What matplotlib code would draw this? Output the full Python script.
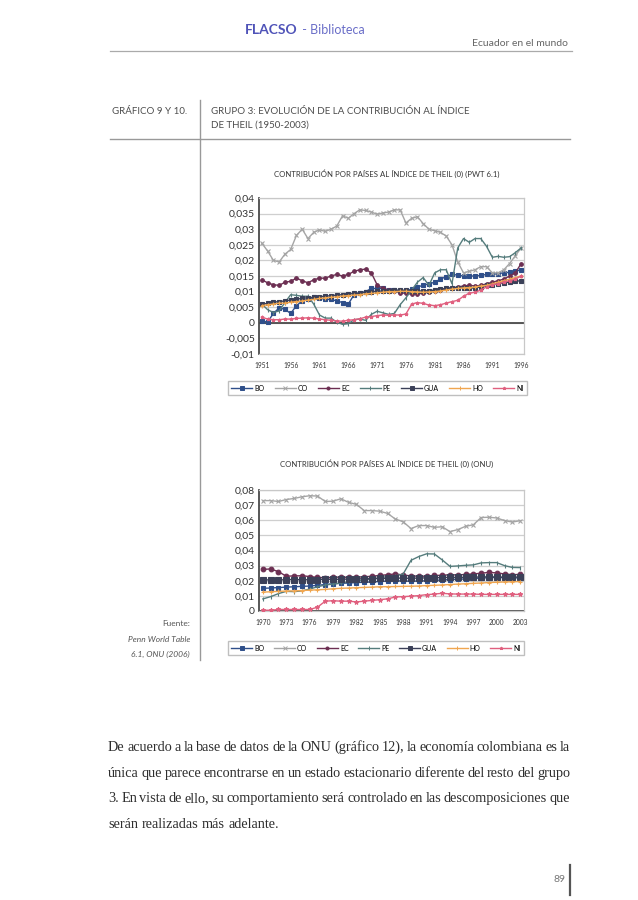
import numpy as np
import matplotlib.pyplot as plt
from matplotlib.lines import Line2D

# Datos

paises = ['BO', 'CO', 'EC', 'PE', 'GUA', 'HO', 'NI']

anios_pwt = list(range(1951, 1997))
pwt_BO = [0.0005, 0.0003, 0.003, 0.0048, 0.0043, 0.003, 0.0055, 0.007, 0.0075, 0.0082,
          0.008, 0.0075, 0.0075, 0.007, 0.0065, 0.006, 0.009, 0.0095, 0.010, 0.011,
          0.011, 0.011, 0.0105, 0.0105, 0.0102, 0.0102, 0.0108, 0.0115, 0.012, 0.0125,
          0.013, 0.014, 0.0148, 0.0155, 0.0153, 0.015, 0.015, 0.015, 0.0152, 0.0155,
          0.0155, 0.0158, 0.016, 0.0162, 0.0165, 0.017]
pwt_CO = [0.0255, 0.023, 0.020, 0.0195, 0.022, 0.0235, 0.028, 0.030, 0.027, 0.029,
          0.0298, 0.0293, 0.030, 0.031, 0.0343, 0.0335, 0.035, 0.0362, 0.036, 0.0355,
          0.0348, 0.0352, 0.0355, 0.0362, 0.0362, 0.032, 0.0335, 0.034, 0.0318, 0.030,
          0.0295, 0.029, 0.0278, 0.025, 0.0195, 0.016, 0.0165, 0.017, 0.018, 0.018,
          0.016, 0.016, 0.017, 0.019, 0.0215, 0.024]
pwt_EC = [0.0138, 0.0128, 0.0122, 0.012, 0.013, 0.0133, 0.0143, 0.0135, 0.0128, 0.0138,
          0.0143, 0.0143, 0.015, 0.0155, 0.015, 0.0155, 0.0165, 0.017, 0.0172, 0.016,
          0.0122, 0.011, 0.0106, 0.0102, 0.0097, 0.0094, 0.0092, 0.0092, 0.0095, 0.0098,
          0.0102, 0.0105, 0.011, 0.0112, 0.0115, 0.0118, 0.012, 0.0118, 0.012, 0.0125,
          0.013, 0.0135, 0.014, 0.015, 0.016, 0.019]
pwt_PE = [0.006, 0.0042, 0.0033, 0.0038, 0.0065, 0.009, 0.0088, 0.0085, 0.0085, 0.006,
          0.0025, 0.0015, 0.0015, 0.0002, -0.0005, -0.0003, 0.001, 0.0012, 0.0008, 0.0027,
          0.0037, 0.0032, 0.0027, 0.003, 0.0058, 0.008, 0.0105, 0.013, 0.0145, 0.012,
          0.016, 0.017, 0.017, 0.0125, 0.024, 0.027, 0.0258, 0.027, 0.027, 0.0245,
          0.021, 0.0213, 0.021, 0.0212, 0.0225, 0.024]
pwt_GUA = [0.006, 0.0062, 0.0066, 0.0068, 0.007, 0.0073, 0.0075, 0.0079, 0.008, 0.0082,
           0.0084, 0.0085, 0.0087, 0.0089, 0.009, 0.0092, 0.0094, 0.0096, 0.0098, 0.010,
           0.0101, 0.0102, 0.0103, 0.0104, 0.0105, 0.0104, 0.0103, 0.0102, 0.0102, 0.0103,
           0.0105, 0.0108, 0.011, 0.0112, 0.0113, 0.0112, 0.0111, 0.0112, 0.0115, 0.012,
           0.0122, 0.0125, 0.0128, 0.0131, 0.0133, 0.0135]
pwt_HO = [0.0055, 0.0058, 0.006, 0.0063, 0.0063, 0.0066, 0.0068, 0.007, 0.0073, 0.0075,
          0.0078, 0.008, 0.0082, 0.0083, 0.0086, 0.0087, 0.0089, 0.009, 0.0093, 0.0094,
          0.0096, 0.0098, 0.010, 0.010, 0.0101, 0.0101, 0.010, 0.0099, 0.0098, 0.0099,
          0.010, 0.0102, 0.0105, 0.0108, 0.011, 0.0112, 0.0113, 0.0115, 0.0118, 0.012,
          0.0125, 0.013, 0.0135, 0.014, 0.0145, 0.015]
pwt_NI = [0.0018, 0.0012, 0.001, 0.001, 0.0012, 0.0012, 0.0014, 0.0015, 0.0016, 0.0015,
          0.0012, 0.001, 0.0008, 0.0006, 0.0005, 0.0008, 0.001, 0.0013, 0.0018, 0.002,
          0.0023, 0.0025, 0.0024, 0.0025, 0.0025, 0.0028, 0.006, 0.0065, 0.0062, 0.0057,
          0.0055, 0.0058, 0.0063, 0.0068, 0.0072, 0.0085, 0.0095, 0.0098, 0.0105, 0.0115,
          0.0122, 0.0125, 0.013, 0.0135, 0.014, 0.015]

anios_onu = list(range(1970, 2004))
onu_BO = [0.015, 0.0152, 0.0155, 0.0158, 0.016, 0.0163, 0.0165, 0.017, 0.0175, 0.018,
          0.0183, 0.0185, 0.0188, 0.019, 0.0192, 0.0195, 0.0198, 0.020, 0.0198, 0.0197,
          0.0198, 0.020, 0.0202, 0.0205, 0.0208, 0.021, 0.0212, 0.0215, 0.0218, 0.022,
          0.0222, 0.022, 0.0218, 0.022]
onu_CO = [0.073, 0.073, 0.0724, 0.0737, 0.0744, 0.0755, 0.0762, 0.076, 0.0724, 0.0726,
          0.0742, 0.0718, 0.0705, 0.0664, 0.0664, 0.066, 0.0645, 0.0608, 0.059, 0.0545,
          0.0565, 0.0565, 0.0553, 0.0557, 0.0525, 0.0538, 0.056, 0.057, 0.0618, 0.062,
          0.0615, 0.0598, 0.0588, 0.0597]
onu_EC = [0.0275, 0.0278, 0.026, 0.023, 0.0232, 0.0233, 0.0228, 0.0222, 0.022, 0.0222,
          0.0225, 0.0222, 0.0224, 0.0226, 0.023, 0.0235, 0.024, 0.0245, 0.0238, 0.0232,
          0.023, 0.023, 0.0235, 0.0236, 0.024, 0.0238, 0.0242, 0.0245, 0.025, 0.0255,
          0.0252, 0.0245, 0.024, 0.0242]
onu_PE = [0.008, 0.0095, 0.0115, 0.013, 0.0128, 0.0133, 0.0145, 0.016, 0.0172, 0.0178,
          0.0185, 0.0192, 0.0198, 0.0205, 0.0212, 0.022, 0.0228, 0.0232, 0.0245, 0.0335,
          0.036, 0.0378, 0.0377, 0.0338, 0.0295, 0.0298, 0.0302, 0.0305, 0.0318, 0.032,
          0.032, 0.030, 0.0288, 0.0287]
onu_GUA = [0.0205, 0.0206, 0.0205, 0.0207, 0.0208, 0.0206, 0.0207, 0.0208, 0.021, 0.0209,
           0.021, 0.0211, 0.0212, 0.0213, 0.0214, 0.0215, 0.0216, 0.0218, 0.0217, 0.0216,
           0.0218, 0.0219, 0.022, 0.0221, 0.0222, 0.0222, 0.0223, 0.0224, 0.0225, 0.0226,
           0.0225, 0.0224, 0.0224, 0.0225]
onu_HO = [0.0125, 0.0127, 0.013, 0.0132, 0.0133, 0.0135, 0.0138, 0.014, 0.0143, 0.0147,
          0.015, 0.0152, 0.0154, 0.0156, 0.0158, 0.016, 0.0161, 0.0162, 0.0163, 0.0164,
          0.0165, 0.0168, 0.017, 0.0172, 0.0175, 0.0178, 0.018, 0.0183, 0.0185, 0.0188,
          0.019, 0.0192, 0.0193, 0.0195]
onu_NI = [0.0005, 0.0005, 0.001, 0.001, 0.001, 0.001, 0.001, 0.0025, 0.0065, 0.0068,
          0.0065, 0.0065, 0.006, 0.0065, 0.007, 0.0075, 0.008, 0.0093, 0.0095, 0.0098,
          0.0102, 0.0108, 0.0112, 0.0117, 0.0113, 0.0112, 0.0112, 0.0112, 0.011, 0.011,
          0.011, 0.011, 0.011, 0.011]

pwt_ytick = [-0.01, -0.005, 0, 0.005, 0.01, 0.015, 0.02, 0.025, 0.03, 0.035, 0.04]
pwt_ylab = ['-0,01', '-0,005', '0', '0,005', '0,01', '0,015', '0,02', '0,025', '0,03', '0,035', '0,04']
pwt_xtick = [1951, 1956, 1961, 1966, 1971, 1976, 1981, 1986, 1991, 1996]
onu_ytick = [0, 0.01, 0.02, 0.03, 0.04, 0.05, 0.06, 0.07, 0.08]
onu_ylab = ['0', '0,01', '0,02', '0,03', '0,04', '0,05', '0,06', '0,07', '0,08']
onu_xtick = [1970, 1973, 1976, 1979, 1982, 1985, 1988, 1991, 1994, 1997, 2000, 2003]

pwt = dict(zip(paises, [pwt_BO, pwt_CO, pwt_EC, pwt_PE, pwt_GUA, pwt_HO, pwt_NI]))
onu = dict(zip(paises, [onu_BO, onu_CO, onu_EC, onu_PE, onu_GUA, onu_HO, onu_NI]))

#Estilos

estilo = {'BO': ('#2f4f8a', 's', 2.2),
          'CO': ('#a5a5a5', 'x', 2.6),
          'EC': ('#6c2f52', 'o', 2.6),
          'PE': ('#557c7c', '|', 2.5),
          'GUA': ('#3b4058', 's', 2.8),
          'HO': ('#f0a650', '+', 2.5),
          'NI': ('#e0607f', '*', 2.5)}

W, H = 638, 900
def fx(x): return x / W
def fy(y): return 1 - y / H
def caja(x0, y0, x1, y1): return [fx(x0), fy(y1), (x1 - x0) / W, (y1 - y0) / H]

gris = '#4d4d4d'

plt.rcParams['font.family'] = 'Lato'
fig = plt.figure(figsize=(W / 100, H / 100), dpi=100)


def grafico(ax, anios, datos, yt, ylab, xt, ms_f):
    for p in paises:
        c, m, ms = estilo[p]
        ax.plot(anios, datos[p], color=c, marker=m, ms=ms * ms_f, lw=1.0, mew=0.8, zorder=3)
    ax.set_xlim(anios[0] - 0.5, anios[-1] + 0.5)
    ax.set_ylim(yt[0], yt[-1])
    ax.set_yticks(yt)
    ax.set_yticklabels(ylab, fontsize=7.5, color='#333333')
    ax.set_xticks(xt)
    ax.set_xticklabels([str(a) for a in xt], fontsize=4.8, color='#333333')
    ax.tick_params(axis='y', length=0, pad=3)
    ax.tick_params(axis='x', length=0, pad=6)
    ax.yaxis.grid(True, color='#cfcfcf', lw=0.9)
    ax.set_axisbelow(True)
    ax.axhline(0, color='#4a4a4a', lw=1.3, zorder=2)
    for s in ['top', 'right', 'bottom']:
        ax.spines[s].set_color('#c8c8c8')
        ax.spines[s].set_linewidth(0.9)
    ax.spines['left'].set_color('#4a4a4a')
    ax.spines['left'].set_linewidth(1.3)


def leyenda(x0, y0, x1, y1):
    h = [Line2D([], [], color=estilo[p][0], marker=estilo[p][1], ms=2.2, lw=1.0, mew=0.7) for p in paises]
    fig.legend(h, paises, loc='lower left', mode='expand', ncol=7,
               bbox_to_anchor=(fx(x0), fy(y1), (x1 - x0) / W, (y1 - y0) / H),
               fontsize=5, frameon=True, fancybox=False, edgecolor='#b0b0b0',
               handlelength=3.0, handletextpad=0.3, borderpad=0.5, borderaxespad=0)


# Cabecera
fig.text(fx(297), fy(30), 'FLACSO', color='#4f53b8', fontsize=10, fontweight='bold', ha='right', va='center')
fig.text(fx(299), fy(30), ' - Biblioteca', color='#6a6ec8', fontsize=9, ha='left', va='center')
fig.text(fx(568), fy(44), 'Ecuador en el mundo', color='#666666', fontsize=7.5, ha='right', va='center')
fig.add_artist(Line2D([fx(110), fx(572)], [fy(51), fy(51)], color='#aaaaaa', lw=0.9))

fig.text(fx(112), fy(111), 'GRÁFICO 9 Y 10.', color=gris, fontsize=7, ha='left', va='center')
fig.text(fx(211), fy(111), 'GRUPO 3: EVOLUCIÓN DE LA CONTRIBUCIÓN AL ÍNDICE', color=gris, fontsize=7, ha='left', va='center')
fig.text(fx(211), fy(125), 'DE THEIL (1950-2003)', color=gris, fontsize=7, ha='left', va='center')
fig.add_artist(Line2D([fx(110), fx(570)], [fy(139), fy(139)], color='#999999', lw=1.0))
fig.add_artist(Line2D([fx(200), fx(200)], [fy(100), fy(660)], color='#999999', lw=1.0))

# Grafico 9
fig.text(fx(387), fy(174), 'CONTRIBUCIÓN POR PAÍSES AL ÍNDICE DE THEIL (0) (PWT 6.1)',
         color='#333333', fontsize=5.6, ha='center', va='center')
ax1 = fig.add_axes(caja(259, 198, 524, 354))
grafico(ax1, anios_pwt, pwt, pwt_ytick, pwt_ylab, pwt_xtick, 1.0)
leyenda(228, 376, 527, 395)

# Grafico 10
fig.text(fx(387), fy(464), 'CONTRIBUCIÓN POR PAÍSES AL ÍNDICE DE THEIL (0) (ONU)',
         color='#333333', fontsize=5.6, ha='center', va='center')
ax2 = fig.add_axes(caja(259, 490, 524, 611))
grafico(ax2, anios_onu, onu, onu_ytick, onu_ylab, onu_xtick, 1.3)
leyenda(228, 636, 524, 655)

# Fuente
fig.text(fx(190), fy(624), 'Fuente:', color='#555555', fontsize=6, ha='right', va='center')
fig.text(fx(190), fy(639), 'Penn World Table', color='#555555', fontsize=6, style='italic', ha='right', va='center')
fig.text(fx(190), fy(654), '6.1, ONU (2006)', color='#555555', fontsize=6, style='italic', ha='right', va='center')

# Texto justificado
lineas = ['De acuerdo a la base de datos de la ONU (gráfico 12), la economía colombiana es la',
          'única que parece encontrarse en un estado estacionario diferente del resto del grupo',
          '3. En vista de ello, su comportamiento será controlado en las descomposiciones que',
          'serán realizadas más adelante.']
r = fig.canvas.get_renderer()
kw = dict(family='Liberation Serif', fontsize=10.3, color='#2e2e2e', va='baseline')
tmp = fig.text(0, 0, '', **kw)
def ancho(s):
    tmp.set_text(s)
    return tmp.get_window_extent(r).width

for i, lin in enumerate(lineas):
    y = 751 + i * 25.7
    pals = lin.split()
    total = ancho(lin)
    extra = 0 if i == len(lineas) - 1 else (570 - 108 - total) / (len(pals) - 1)
    for k, p in enumerate(pals):
        if k == 0:
            x = 108
        else:
            x = 108 + ancho(' '.join(pals[:k + 1])) - ancho(p) + k * extra
        fig.text(fx(x), fy(y), p, **kw)
tmp.set_text('')

# Pie
fig.text(fx(565), fy(879), '89', color='#777777', fontsize=7.5, ha='right', va='center')
fig.add_artist(Line2D([fx(570), fx(570)], [fy(865), fy(895)], color='#555555', lw=1.6))

fig.savefig('out.png', dpi=100)
